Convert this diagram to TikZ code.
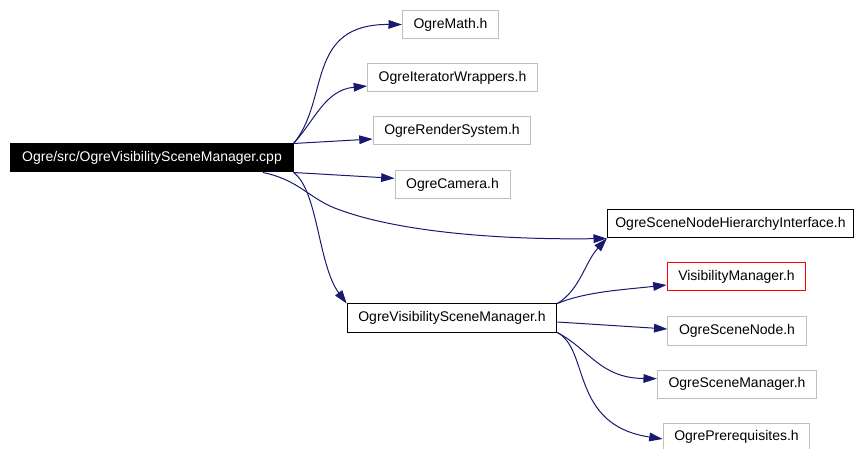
\documentclass[tikz,border=0pt]{standalone}
\usepackage{fontspec}
\setmainfont{Liberation Sans}
\usepackage{tikz}
\usetikzlibrary{arrows.meta}
\definecolor{edgeblue}{RGB}{25,25,112}
\definecolor{boxgray}{RGB}{191,191,191}
\tikzset{
  file_node/.style = {rectangle, align=center, inner xsep=8.4pt, inner ysep=0pt,
    minimum height=21pt, font=\fontsize{10.5pt}{12pt}\selectfont,
    draw=boxgray, line width=0.75pt, text=black},% fichier inclus
  sel_node/.style = {file_node, draw=black},% fichier avec sous-graphe
  red_node/.style = {file_node, draw=red},% fichier non documente
  main_node/.style = {file_node, draw=black, fill=black, text=white},% fichier courant
  dep/.style = {draw=edgeblue, line width=0.75pt,
    -{Triangle[length=10pt,width=6.5pt]}}% inclusion
}
\begin{document}
\begin{tikzpicture}[x=0.75pt, y=-0.75pt]
  \useasboundingbox (0,0) rectangle (854,449);
  % fichiers
  \node [main_node] (main) at (152,158) {Ogre/src/OgreVisibilitySceneManager.cpp};
  \node [file_node] (math) at (450.5,24.5) {OgreMath.h};
  \node [file_node] (iter) at (452.5,78) {OgreIteratorWrappers.h};
  \node [file_node] (render) at (452,131) {OgreRenderSystem.h};
  \node [file_node] (camera) at (452.5,185) {OgreCamera.h};
  \node [sel_node, inner xsep=6pt] (hier) at (730.5,224) {OgreSceneNodeHierarchyInterface.h};
  \node [red_node] (vism) at (736.5,277) {VisibilityManager.h};
  \node [sel_node] (ovsm) at (452,318) {OgreVisibilitySceneManager.h};
  \node [file_node] (scenenode) at (737,331) {OgreSceneNode.h};
  \node [file_node] (scenemgr) at (737,384) {OgreSceneManager.h};
  \node [file_node] (prereq) at (736.5,437) {OgrePrerequisites.h};
  % inclusions
  \draw [dep] (main.north east) .. controls (330,100) and (305,24) .. (math.west);
  \draw [dep] (main.north east) .. controls (315,120) and (325,90) .. ([yshift=-6pt]iter.west);
  \draw [dep] (main.north east) -- ([yshift=-6pt]render.west);
  \draw [dep] (main.south east) -- ([yshift=5pt]camera.west);
  \draw [dep] ([xshift=-23pt]main.south east) .. controls (300,180) and (310,200) .. (340,210)
    .. controls (400,232) and (500,240) .. (hier.south west);
  \draw [dep] (main.south east) .. controls (318,190) and (318,265) .. (ovsm.north west);
  \draw [dep] (ovsm.north east) .. controls (580,290) and (585,262) .. (hier.south west);
  \draw [dep] (ovsm.north east) .. controls (585,292) and (620,290) .. ([yshift=-6pt]vism.west);
  \draw [dep] ([yshift=-3pt]ovsm.east) -- ([yshift=1.5pt]scenenode.west);
  \draw [dep] (ovsm.south east) .. controls (590,350) and (600,378) .. ([yshift=4pt]scenemgr.west);
  \draw [dep] (ovsm.south east) .. controls (590,350) and (570,425) .. ([yshift=-1.5pt]prereq.west);
\end{tikzpicture}
\end{document}
